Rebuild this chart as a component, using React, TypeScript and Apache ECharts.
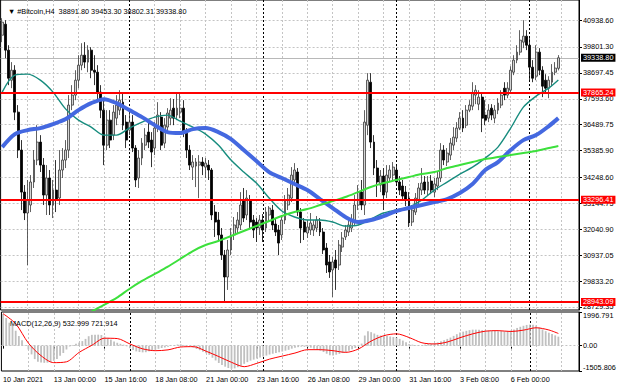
import React, { useEffect, useRef } from "react";
import * as echarts from "echarts";

const symbolName = "#Bitcoin,H4";
const barCount = 182;

// [open, close, low, high] per H4 bar, from 10 Jan 2021 08:00
const candles: number[][] = [
  [40300, 40855, 40005, 41025], [40770, 39665, 39325, 40940], [39665, 38470, 38175, 39875], [38385, 38810, 38045, 39155], [38810, 37025, 36685, 39025],
  [37025, 35410, 35070, 37325], [35410, 33620, 32855, 35835], [33620, 32730, 32430, 33920], [32730, 33280, 30515, 34135], [33070, 34050, 32770, 34345],
  [34050, 34985, 33795, 35410], [34985, 35750, 34770, 36470], [35750, 34770, 34475, 36045], [34770, 33495, 33070, 35070], [33495, 34220, 32645, 34770],
  [34220, 33070, 32645, 34560], [33070, 33705, 32515, 34135], [33705, 33280, 32770, 34985], [33370, 34560, 33070, 35410], [34560, 34985, 34220, 35495],
  [34985, 35410, 34645, 35835], [35410, 37325, 35070, 37750], [37325, 37750, 37110, 38175], [37750, 38385, 37535, 38810], [38385, 39025, 38045, 39450],
  [39025, 39450, 38810, 39960], [39450, 39155, 38900, 40005], [39155, 39665, 38725, 39875], [39665, 38810, 38470, 39790], [38810, 38725, 38175, 39450],
  [38725, 37875, 37535, 39025], [37875, 37110, 36770, 38175], [37110, 35620, 34770, 37535], [35620, 36685, 35410, 37110], [36685, 35835, 35495, 37110],
  [36045, 37025, 35835, 37325], [36770, 37325, 36470, 37750], [37110, 37535, 36900, 37960], [37450, 36470, 36260, 37875], [36600, 35835, 35495, 36900],
  [36260, 36600, 36045, 37025], [36600, 35495, 35325, 36900], [35495, 34135, 33835, 35620], [34220, 35070, 33795, 35410], [35070, 35705, 34770, 35920],
  [35620, 36045, 35410, 36345], [36175, 35750, 35495, 36685], [35835, 35325, 34685, 36175], [35495, 36345, 35195, 36600], [36345, 36900, 36175, 37450],
  [36815, 35620, 35410, 37025], [35705, 36470, 35495, 36770], [36390, 36985, 36175, 37195], [36770, 37110, 36470, 37620], [37195, 36770, 36470, 37580],
  [36900, 37195, 36685, 37835], [37025, 37195, 36770, 37875], [37195, 36130, 35960, 37535], [36130, 35410, 35070, 36345], [35410, 34770, 34560, 35620],
  [34685, 34900, 34135, 35195], [34730, 34900, 33835, 35070], [34770, 34900, 33365, 35195], [34900, 34730, 34345, 35110], [34685, 34855, 34220, 35070],
  [34770, 34560, 34135, 34985], [34560, 32645, 32430, 34645], [32770, 32345, 31710, 33070], [32430, 31795, 31580, 32770], [31795, 30940, 30730, 32090],
  [30940, 30005, 28945, 31155], [30005, 31155, 29455, 31580], [31155, 31795, 30940, 32090], [31795, 32220, 31580, 32560], [32090, 32430, 31880, 32770],
  [32220, 33070, 32005, 33620], [33280, 32515, 32345, 33795], [32645, 33365, 32430, 33705], [33280, 32345, 32090, 33495], [32430, 32005, 31665, 32645],
  [32345, 32090, 31495, 32515], [32090, 32430, 31795, 32645], [32430, 32005, 31495, 32685], [32090, 32770, 31920, 32985], [32645, 32940, 32345, 33025],
  [32855, 32220, 32005, 33070], [32260, 31920, 31750, 32515], [32005, 31450, 30940, 32220], [31795, 32430, 31580, 32645], [32430, 33280, 32260, 33495],
  [33070, 33495, 32855, 33795], [33365, 34345, 33195, 34685], [34135, 34560, 33880, 34855], [34475, 32770, 32600, 34645], [32770, 32090, 31450, 32940],
  [32345, 31920, 31580, 32515], [31880, 32135, 31665, 32430], [32005, 32305, 31795, 32730], [32005, 32220, 31750, 32430], [32090, 32430, 31920, 32600],
  [32345, 31920, 31750, 32515], [31920, 31155, 30985, 32090], [31240, 30515, 30175, 31450], [30645, 30220, 29965, 30940], [30305, 30645, 29155, 30855],
  [30730, 30390, 29455, 31155], [30515, 31365, 30305, 31580], [31280, 31665, 31070, 31920], [31710, 32005, 31580, 32220], [31920, 32220, 31750, 32430],
  [32090, 32430, 31920, 32685], [32345, 33070, 32175, 33495], [33070, 33620, 32855, 33920], [33620, 33070, 32855, 34135], [33070, 36600, 32645, 37110],
  [36470, 38385, 36045, 38685], [38300, 35750, 35495, 38685], [35750, 34645, 34345, 36045], [34645, 34050, 33410, 34985], [33920, 34305, 33620, 34560],
  [34305, 33495, 32855, 34645], [33620, 34345, 33365, 34770], [34220, 34560, 34050, 34770], [34345, 34685, 34135, 34900], [34560, 34050, 33880, 34770],
  [34050, 33705, 33495, 34305], [33880, 33450, 33280, 34135], [33620, 33280, 33025, 33880], [33365, 32305, 32135, 33620], [32345, 32855, 32175, 33070],
  [32770, 33365, 32645, 33580], [33280, 33795, 33110, 34005], [33705, 34005, 33495, 34645], [34050, 33705, 33535, 34305], [33705, 34050, 33495, 34305],
  [34090, 33705, 33535, 34345], [33620, 33965, 33410, 34220], [33880, 34220, 33705, 34475], [34220, 35410, 34050, 35705], [35410, 34985, 34770, 35620],
  [34900, 35280, 34730, 35495], [35195, 35705, 34985, 35920], [35620, 35960, 35410, 36385], [35920, 36345, 35750, 36600], [36345, 36770, 36260, 37025],
  [36770, 36345, 36175, 37110], [36470, 37110, 36345, 37325], [37110, 37325, 37025, 37535], [37280, 37835, 37110, 38300], [37750, 37960, 37365, 38175],
  [37365, 37665, 37110, 37960], [37665, 36770, 36175, 37875], [36900, 36685, 36470, 37535], [36770, 37110, 36600, 37365], [37195, 36900, 36685, 37365],
  [36770, 37110, 36555, 37325], [37110, 37410, 36940, 37620], [37325, 37750, 37195, 37960], [38045, 37750, 37535, 38300], [37750, 38045, 37620, 38300],
  [37960, 38810, 37835, 38980], [38725, 39240, 38600, 39450], [39240, 39580, 39110, 39875], [39580, 40090, 39450, 40515], [40005, 40260, 39750, 40940],
  [40260, 39875, 39665, 40515], [39875, 38940, 38385, 40175], [38940, 38470, 38300, 39240], [38555, 39580, 38385, 39875], [39580, 38810, 38600, 39750],
  [38810, 38130, 37665, 38980], [38385, 38045, 37875, 38640], [38045, 38385, 37620, 38555], [38300, 38725, 38130, 39070], [38725, 38900, 38600, 39155],
  [38891.8, 39338.8, 38802.31, 39453.3],
];

// moving averages and MACD signal, read at every 4th bar
const maIdx = [0, 4, 8, 12, 16, 20, 24, 28, 32, 36, 40, 44, 48, 52, 56, 60, 64, 68, 72, 76, 80, 84, 88, 92, 96, 100, 104, 108, 112, 116, 120, 124, 128, 132, 136, 140, 144, 148, 152, 156, 160, 164, 168, 172, 175];
const maTeal = [37876, 38599, 38642, 38387, 37876, 37154, 36685, 36387, 36047, 36047, 36345, 36600, 36813, 36898, 36642, 36387, 36090, 35621, 34984, 34473, 34005, 33367, 32814, 32559, 32431, 32431, 32346, 32176, 32218, 32474, 32729, 32857, 32984, 33282, 33707, 34048, 34388, 34686, 35069, 35536, 36345, 37238, 37706, 38047, 38390];
const maBlue = [35536, 36090, 36260, 36345, 36515, 36728, 37111, 37408, 37578, 37408, 37111, 36813, 36472, 36175, 36132, 36302, 36345, 36175, 35877, 35409, 34941, 34473, 34218, 33963, 33707, 33324, 32942, 32559, 32346, 32431, 32601, 32814, 32942, 33069, 33197, 33324, 33580, 33963, 34558, 34899, 35409, 35834, 36047, 36430, 36770];
const maGreen = [null, null, null, null, null, null, 28135, 28518, 28815, 29113, 29496, 29836, 30134, 30432, 30772, 31112, 31368, 31538, 31751, 31963, 32176, 32389, 32601, 32772, 32899, 33069, 33239, 33410, 33622, 33835, 34005, 34133, 34261, 34388, 34473, 34644, 34771, 34899, 35026, 35111, 35196, 35281, 35366, 35494, 35579];
const macdSignal = [1900, 1300, 150, -600, -1010, -960, -400, 20, 440, 420, 100, -190, -300, -250, -80, -60, -330, -650, -990, -1250, -1050, -800, -620, -440, -240, -240, -300, -400, -200, 270, 590, 700, 480, 170, 100, 215, 470, 700, 860, 890, 840, 920, 1060, 930, 721.914];

const macdHist = [
  1880, 1640, 1360, 1170, 880, 570, 320, 30, -230, -520,
  -800, -950, -1000, -1020, -1010, -980, -900, -790, -600, -430,
  -230, -50, 40, 110, 180, 270, 400, 560, 640, 650,
  650, 630, 540, 460, 360, 250, 170, 110, 60, -40,
  -150, -260, -340, -380, -400, -390, -340, -290, -250, -190,
  -140, -110, -60, -20, 30, 70, 80, 40, -20, -60,
  -120, -200, -270, -370, -450, -550, -720, -880, -1030, -1150,
  -1250, -1330, -1380, -1350, -1280, -1190, -1080, -980, -890, -830,
  -770, -710, -650, -590, -530, -480, -440, -400, -350, -300,
  -250, -180, -130, -90, -60, -70, -90, -120, -180, -240,
  -300, -380, -480, -570, -580, -540, -490, -440, -390, -300,
  -220, -140, -40, 120, 600, 850, 800, 720, 640, 600,
  580, 570, 540, 510, 480, 400, 300, 200, 100, 60,
  30, 20, 30, 60, 100, 130, 160, 190, 260, 320,
  400, 480, 580, 680, 780, 830, 880, 920, 950, 950,
  940, 920, 900, 890, 880, 870, 860, 860, 850, 850,
  900, 960, 1050, 1120, 1180, 1230, 1250, 1240, 1200, 1080,
  970, 860, 770, 690, 610, 532.999,
];

const priceTicks = [28729.35, 29833.2, 30937.05, 32040.9, 33144.75, 34248.6, 35385.9, 36489.75, 37593.6, 38697.45, 39801.3, 40938.6];
const macdTicks = [-1505.806, 0, 1996.791];
const levels = [37865.24, 33296.41, 28943.09];
const bidPrice = 39338.8;
const priceMin = 28600;
const priceMax = 41800;

const timeTickIdx = [0, 16, 32, 48, 64, 80, 96, 112, 128, 144, 160];
const timeTickLabels = ["10 Jan 2021", "13 Jan 00:00", "15 Jan 16:00", "18 Jan 08:00", "21 Jan 00:00", "23 Jan 16:00", "26 Jan 08:00", "29 Jan 00:00", "31 Jan 16:00", "3 Feb 08:00", "6 Feb 00:00"];
const gridIdx = [8, 16, 24, 32, 40, 48, 56, 64, 72, 80, 88, 96, 104, 112, 120, 128, 136, 144, 152, 160, 168, 176];
const weekSepIdx = [40, 82, 124, 166];

export default function App() {
  const ref = useRef<HTMLDivElement>(null);
  useEffect(() => {
    const chart = echarts.init(ref.current!, null, { renderer: "svg" });
    const font = "Liberation Sans, Arial, sans-serif";
    const fs = 7.3;
    const categories = Array.from({ length: barCount }, (_, i) => String(i));
    const last = candles[candles.length - 1];
    const dash = { type: [2, 2], color: "#c4c4c4", width: 1 };
    const sep = { type: [2, 2], color: "#000", width: 1 };
    const tickShow = (i: number) => timeTickIdx.includes(i);
    const pairs = (vals: (number | null)[]) => maIdx.map((i, k) => [i, vals[k]]);

    chart.setOption({
      animation: false,
      backgroundColor: "#fff",
      textStyle: { fontFamily: font },
      title: [
        {
          text: `▼ ${symbolName}  ${last[0].toFixed(2)} ${last[3].toFixed(2)} ${last[2].toFixed(2)} ${last[1].toFixed(2)}`,
          left: 3, top: 3,
          textStyle: { fontSize: fs, fontWeight: "normal", color: "#000", fontFamily: font },
        },
        {
          text: `MACD(12,26,9) ${macdHist[macdHist.length - 1].toFixed(3)} ${macdSignal[macdSignal.length - 1].toFixed(3)}`,
          left: 5, top: 315,
          textStyle: { fontSize: fs, fontWeight: "normal", color: "#000", fontFamily: font },
        },
      ],
      grid: [
        { left: 0.6, right: 41, top: -1, height: 311, show: true, borderColor: "#000", borderWidth: 1, backgroundColor: "transparent" },
        { left: 0.6, right: 41, top: 312, height: 59, show: true, borderColor: "#000", borderWidth: 1, backgroundColor: "transparent" },
      ],
      xAxis: [
        {
          type: "category", gridIndex: 0, data: categories, boundaryGap: true,
          axisLine: { show: false }, axisTick: { show: false }, axisLabel: { show: false }, splitLine: { show: false },
        },
        {
          type: "category", gridIndex: 1, data: categories, boundaryGap: true,
          axisLine: { show: false },
          axisTick: { show: true, interval: tickShow, alignWithLabel: true, length: 3, lineStyle: { color: "#000" } },
          axisLabel: {
            interval: tickShow,
            formatter: (_v: string, idx: number) => timeTickLabels[timeTickIdx.indexOf(idx)] ?? "",
            align: "left", fontSize: fs, color: "#000", margin: 5, fontFamily: font,
          },
          splitLine: { show: false },
        },
      ],
      yAxis: [
        {
          type: "value", gridIndex: 0, position: "right", min: priceMin, max: priceMax,
          axisLine: { show: true, lineStyle: { color: "#000" } },
          axisTick: { show: true, customValues: priceTicks, length: 3, lineStyle: { color: "#000" } },
          axisLabel: { customValues: priceTicks, formatter: (v: number) => v.toFixed(2), fontSize: fs, color: "#000", margin: 4, align: "left", fontFamily: font },
          splitLine: { show: false },
        },
        {
          type: "value", gridIndex: 1, position: "right", min: macdTicks[0], max: macdTicks[2],
          axisLine: { show: true, lineStyle: { color: "#000" } },
          axisTick: { show: true, customValues: macdTicks, length: 3, lineStyle: { color: "#000" } },
          axisLabel: {
            customValues: macdTicks,
            formatter: (v: number) => (v === 0 ? "0.00" : v.toFixed(3)),
            fontSize: fs, color: "#000", margin: 4, align: "left", fontFamily: font,
            verticalAlignMaxLabel: "top", verticalAlignMinLabel: "bottom",
          },
          splitLine: { show: false },
        },
      ],
      series: [
        {
          type: "line", name: "grid", xAxisIndex: 0, yAxisIndex: 0, data: [], silent: true,
          markLine: {
            z: 1, silent: true, symbol: ["none", "none"], animation: false, label: { show: false },
            data: [
              ...priceTicks.map((v) => ({ yAxis: v, lineStyle: dash })),
              ...gridIdx.map((i) => ({ xAxis: i, lineStyle: dash })),
              ...weekSepIdx.map((i) => ({ xAxis: i, lineStyle: sep })),
              {
                yAxis: bidPrice, lineStyle: { type: "solid", color: "#b8b8b8", width: 1 },
                label: {
                  show: true, position: "end", distance: 2, formatter: bidPrice.toFixed(2),
                  backgroundColor: "#000", color: "#fff", padding: [1, 2, 0, 2], fontSize: fs, fontFamily: font,
                },
              },
            ],
          },
        },
        {
          type: "candlestick", name: "price", xAxisIndex: 0, yAxisIndex: 0, data: candles, barWidth: 2.4, silent: true,
          itemStyle: { color: "#d4d4d4", color0: "#000", borderColor: "#3a3a3a", borderColor0: "#000", borderWidth: 0.8 },
          z: 2,
        },
        {
          type: "line", name: "maTeal", xAxisIndex: 0, yAxisIndex: 0, data: pairs(maTeal), showSymbol: false, smooth: 0.3,
          lineStyle: { color: "#178c7e", width: 1.4 }, z: 3, silent: true,
        },
        {
          type: "line", name: "maBlue", xAxisIndex: 0, yAxisIndex: 0, data: pairs(maBlue), showSymbol: false, smooth: 0.3,
          lineStyle: { color: "#4468e0", width: 4 }, z: 3, silent: true,
        },
        {
          type: "line", name: "maGreen", xAxisIndex: 0, yAxisIndex: 0, data: pairs(maGreen), showSymbol: false, smooth: 0.3,
          lineStyle: { color: "#3ce03c", width: 2 }, z: 3, silent: true, clip: true,
        },
        {
          type: "line", name: "levels", xAxisIndex: 0, yAxisIndex: 0, data: [], silent: true,
          markLine: {
            z: 5, silent: true, symbol: ["none", "none"], animation: false,
            lineStyle: { type: "solid", color: "#ff0000", width: 2 },
            label: {
              show: true, position: "end", distance: 2,
              formatter: (p: any) => Number(p.value).toFixed(2),
              backgroundColor: "#ff0000", color: "#fff", padding: [1, 2, 0, 2], fontSize: fs, fontFamily: font,
            },
            data: levels.map((v) => ({ yAxis: v })),
          },
        },
        {
          type: "bar", name: "macd", xAxisIndex: 1, yAxisIndex: 1, data: macdHist, barWidth: 1.8, silent: true,
          itemStyle: { color: "#c0c0c0" },
          markLine: {
            z: 1, silent: true, symbol: ["none", "none"], animation: false, label: { show: false },
            data: [
              { yAxis: 0, lineStyle: dash },
              ...gridIdx.map((i) => ({ xAxis: i, lineStyle: dash })),
              ...weekSepIdx.map((i) => ({ xAxis: i, lineStyle: sep })),
            ],
          },
        },
        {
          type: "line", name: "signal", xAxisIndex: 1, yAxisIndex: 1, data: pairs(macdSignal), showSymbol: false, smooth: 0.3,
          lineStyle: { color: "#ff0000", width: 1 }, z: 3, silent: true,
        },
      ],
    });
    return () => chart.dispose();
  }, []);
  return <div ref={ref} style={{ position: "fixed", left: 0, top: 0, width: 620, height: 388 }} />;
}
